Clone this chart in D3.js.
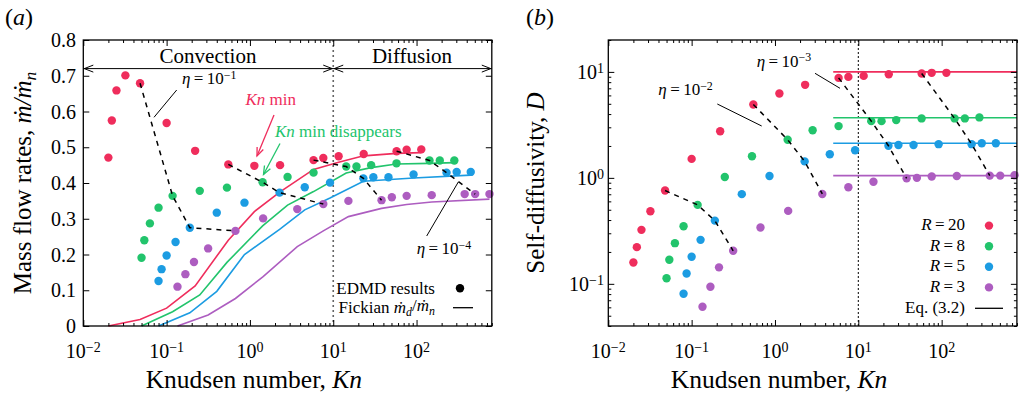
<!DOCTYPE html>
<html>
<head>
<meta charset="utf-8">
<script src="https://cdn.jsdelivr.net/npm/d3@7"></script>
<style>
body { margin: 0; background: #fff; }
svg { font-family: "Liberation Serif", "Times New Roman", serif; }
</style>
</head>
<body>
<div id="chart"></div>
<script>
width = 1021
height = 400

// Kn of the EDMD runs, one list per aspect ratio R (same runs in both panels)
let knR20 = [0.02, 0.022, 0.025, 0.032, 0.048, 0.1, 0.22, 0.55, 1.13, 2.3, 5.8, 7.6, 11.6, 23.2, 57.6, 76, 114]
let knR8 = [0.05, 0.054, 0.063, 0.08, 0.118, 0.25, 0.53, 1.42, 2.83, 5.8, 14.3, 19, 28.5, 57.5, 143, 190, 284]
let knR5 = [0.08, 0.087, 0.1, 0.128, 0.19, 0.4, 0.86, 2.27, 4.55, 9.15, 23, 30.3, 46, 92, 229, 303, 447]
let knR3 = [0.135, 0.168, 0.213, 0.315, 0.67, 1.44, 3.7, 7.6, 15.2, 38, 50.5, 76, 152, 378, 505, 750]

// (a) mass flow rates m/m_n
let flowR20 = [0.471, 0.575, 0.659, 0.701, 0.679, 0.568, 0.490, 0.452, 0.448, 0.450, 0.464, 0.470, 0.475, 0.481, 0.489, 0.493, 0.494]
let flowR8 = [0.191, 0.240, 0.287, 0.331, 0.364, 0.378, 0.387, 0.402, 0.417, 0.429, 0.446, 0.446, 0.450, 0.455, 0.463, 0.463, 0.463]
let flowR5 = [0.126, 0.159, 0.197, 0.235, 0.275, 0.317, 0.345, 0.373, 0.388, 0.401, 0.413, 0.416, 0.416, 0.424, 0.429, 0.431, 0.431]
let flowR3 = [0.110, 0.145, 0.179, 0.217, 0.266, 0.301, 0.327, 0.341, 0.350, 0.352, 0.360, 0.364, 0.366, 0.369, 0.369, 0.369]

// (a) Fickian m_d/m_n, [Kn, value]
let fickR20 = [[0.02, 0], [0.048, 0.018], [0.1, 0.05], [0.22, 0.112], [0.55, 0.24], [1.13, 0.32], [2.3, 0.375], [5.8, 0.438], [11.6, 0.458], [23.2, 0.476], [57.6, 0.483], [114, 0.485]]
let fickR8 = [[0.05, 0], [0.118, 0.04], [0.25, 0.087], [0.53, 0.178], [1.42, 0.28], [2.83, 0.338], [5.8, 0.376], [14.3, 0.428], [28.5, 0.443], [57.5, 0.453], [143, 0.455], [284, 0.457]]
let fickR5 = [[0.08, 0], [0.19, 0.037], [0.4, 0.097], [0.86, 0.2], [2.27, 0.27], [4.55, 0.325], [9.15, 0.358], [23, 0.405], [92, 0.414], [447, 0.422]]
let fickR3 = [[0.135, 0], [0.315, 0.031], [0.67, 0.077], [1.44, 0.138], [3.7, 0.222], [7.6, 0.266], [15.2, 0.306], [38, 0.329], [76, 0.34], [152, 0.347], [750, 0.355]]

// (b) self-diffusivity D
let diffR20 = [0.159, 0.222, 0.323, 0.484, 0.759, 1.51, 2.75, 4.93, 6.25, 7.55, 8.78, 8.97, 9.17, 9.5, 9.66, 9.8, 9.8]
let diffR8 = [0.113, 0.169, 0.242, 0.350, 0.556, 1.02, 1.60, 2.29, 2.81, 3.08, 3.43, 3.43, 3.51, 3.64, 3.64, 3.64, 3.72]
let diffR5 = [0.0807, 0.125, 0.180, 0.260, 0.395, 0.702, 1.04, 1.43, 1.67, 1.82, 2.01, 2.04, 2.04, 2.08, 2.08, 2.12, 2.12]
let diffR3 = [0.0608, 0.094, 0.143, 0.205, 0.340, 0.488, 0.705, 0.815, 0.92, 0.99, 1.0, 1.03, 1.04, 1.05, 1.05, 1.06]

// (b) Eq. (3.2) plateau values, drawn from Kn = 5 on
let eqD = [10, 3.69, 2.12, 1.05]
let eqKnStart = 5

// point index (per R) joined by each eta dashed line
let etaIdxA = [[4, 4, 4, 4], [7, 7, 7, 7], [10, 10, 10, 9], [14, 14, 14, 14]]
let etaIdxB = [[4, 4, 4, 3], [7, 7, 7, 6], [10, 10, 10, 9], [14, 14, 14, 13]]

let rLabels = ["20", "8", "5", "3"]
let colors = ["#ef2d5c", "#22c46c", "#1c9ce2", "#ad5dc0"]

let knAll = [knR20, knR8, knR5, knR3]
let flowAll = [flowR20, flowR8, flowR5, flowR3]
let fickAll = [fickR20, fickR8, fickR5, fickR3]
let diffAll = [diffR20, diffR8, diffR5, diffR3]

let svg = d3.select("#chart")
    .append("svg")
    .attr("width", width)
    .attr("height", height)

// text with italic / sub / sup parts
function rich(sel, parts) {
    parts.forEach(p => {
        let t = sel.append("tspan").text(p.t)
        if (p.i) t.style("font-style", "italic")
        if (p.sup) t.attr("dy", "-0.45em").attr("font-size", "70%")
        if (p.sub) t.attr("dy", "0.3em").attr("font-size", "70%")
        if (p.back) t.attr("dy", p.back)
    })
    return sel
}

function powLabel(e) {
    return [{ t: "10" }, { t: e < 0 ? "\u2212" + (-e) : "" + e, sup: true }]
}

function chevron(g, x, y, dir) {
    g.append("path")
        .attr("d", "M" + (x - dir * 9) + "," + (y - 3.5) + "L" + x + "," + y + "L" + (x - dir * 9) + "," + (y + 3.5))
        .attr("fill", "none")
        .attr("stroke", "#000")
        .attr("stroke-width", 1)
}

function logTicksX(g, x, y0, y1) {
    let all = x.ticks()
    let major = all.filter(v => Math.abs(Math.log10(v) - Math.round(Math.log10(v))) < 1e-6)
    let minor = all.filter(v => major.indexOf(v) < 0)
    g.append("g").attr("transform", "translate(0," + y0 + ")")
        .call(d3.axisBottom(x).tickValues(minor).tickSize(-3).tickFormat(""))
    g.append("g").attr("transform", "translate(0," + y0 + ")")
        .call(d3.axisBottom(x).tickValues(major).tickSize(-6).tickFormat(""))
    g.append("g").attr("transform", "translate(0," + y1 + ")")
        .call(d3.axisTop(x).tickValues(minor).tickSize(-3).tickFormat(""))
    g.append("g").attr("transform", "translate(0," + y1 + ")")
        .call(d3.axisTop(x).tickValues(major).tickSize(-6).tickFormat(""))
    major.forEach(v => {
        rich(g.append("text")
            .attr("x", x(v))
            .attr("y", y0 + 32)
            .attr("text-anchor", "middle")
            .attr("font-size", 20), powLabel(Math.round(Math.log10(v))))
    })
}

function cleanAxes(g) {
    g.selectAll(".domain").remove()
    g.selectAll(".tick line").attr("stroke", "#000").attr("stroke-width", 1)
}

// ---------------- panel (a) ----------------
let xA = d3.scaleLog().domain([0.01, 800]).range([83.3, 491.8])
let yA = d3.scaleLinear().domain([0, 0.8]).range([326, 40])
let ga = svg.append("g")

ga.append("line")
    .attr("x1", xA(10)).attr("x2", xA(10))
    .attr("y1", yA(0.8)).attr("y2", yA(0))
    .attr("stroke", "#666").attr("stroke-width", 1.6)
    .attr("stroke-dasharray", "2,3")

fickAll.forEach((f, i) => {
    ga.append("path")
        .datum(f)
        .attr("d", d3.line().x(d => xA(d[0])).y(d => yA(d[1])))
        .attr("fill", "none")
        .attr("stroke", colors[i])
        .attr("stroke-width", 1.6)
})

flowAll.forEach((s, i) => {
    ga.append("g").selectAll("circle")
        .data(s)
        .join("circle")
        .attr("cx", (d, j) => xA(knAll[i][j]))
        .attr("cy", d => yA(d))
        .attr("r", 4.2)
        .attr("fill", colors[i])
})

etaIdxA.forEach(idx => {
    let pts = idx.map((j, i) => [knAll[i][j], flowAll[i][j]])
    ga.append("path")
        .datum(pts)
        .attr("d", d3.line().x(d => xA(d[0])).y(d => yA(d[1])))
        .attr("fill", "none")
        .attr("stroke", "#000")
        .attr("stroke-width", 1.5)
        .attr("stroke-dasharray", "5,5")
})

let axA = ga.append("g")
logTicksX(axA, xA, 326, 40)
axA.append("g").attr("transform", "translate(" + xA.range()[0] + ",0)")
    .call(d3.axisLeft(yA).ticks(8).tickSize(-6).tickFormat(""))
axA.append("g").attr("transform", "translate(" + xA.range()[1] + ",0)")
    .call(d3.axisRight(yA).ticks(8).tickSize(-6).tickFormat(""))
cleanAxes(axA)
yA.ticks(8).forEach(v => {
    axA.append("text")
        .attr("x", 76)
        .attr("y", yA(v) + 7)
        .attr("text-anchor", "end")
        .attr("font-size", 20)
        .text(v === 0 ? "0" : d3.format(".1f")(v))
})
ga.append("rect")
    .attr("x", 83.3).attr("y", 40)
    .attr("width", 491.8 - 83.3).attr("height", 286)
    .attr("fill", "none").attr("stroke", "#000").attr("stroke-width", 1.3)

// convection / diffusion band
let yBand = yA(0.72)
ga.append("line").attr("x1", xA(0.01)).attr("x2", xA(800)).attr("y1", yBand).attr("y2", yBand)
    .attr("stroke", "#000").attr("stroke-width", 1)
chevron(ga, xA(0.01) + 1, yBand, -1)
chevron(ga, xA(10) - 1, yBand, 1)
chevron(ga, xA(10) + 1, yBand, -1)
chevron(ga, xA(800) - 1, yBand, 1)
ga.append("text").attr("x", 208).attr("y", 63).attr("text-anchor", "middle").attr("font-size", 21).text("Convection")
ga.append("text").attr("x", 412).attr("y", 63).attr("text-anchor", "middle").attr("font-size", 21).text("Diffusion")

// eta labels
rich(ga.append("text").attr("x", 182).attr("y", 84).attr("font-size", 17),
    [{ t: "\u03B7", i: true }, { t: "\u2009=\u200910" }, { t: "\u22121", sup: true }])
ga.append("line").attr("x1", 176.7).attr("y1", 90).attr("x2", 154).attr("y2", 117.3).attr("stroke", "#000")
rich(ga.append("text").attr("x", 416.7).attr("y", 254).attr("font-size", 17),
    [{ t: "\u03B7", i: true }, { t: "\u2009=\u200910" }, { t: "\u22124", sup: true }])
ga.append("line").attr("x1", 426.7).attr("y1", 236).attr("x2", 458.3).attr("y2", 182).attr("stroke", "#000")

// Kn min annotations
rich(ga.append("text").attr("x", 245.5).attr("y", 105).attr("font-size", 17).attr("fill", colors[0]),
    [{ t: "Kn", i: true }, { t: " min" }])
rich(ga.append("text").attr("x", 275).attr("y", 136.5).attr("font-size", 17).attr("fill", colors[1]),
    [{ t: "Kn", i: true }, { t: " min disappears" }])

function arrow(g, x1, y1, x2, y2, c) {
    g.append("line").attr("x1", x1).attr("y1", y1).attr("x2", x2).attr("y2", y2)
        .attr("stroke", c).attr("stroke-width", 1.3)
    let a = Math.atan2(y2 - y1, x2 - x1)
    let p = [-0.38, 0.38].map(o => [x2 - 9 * Math.cos(a + o), y2 - 9 * Math.sin(a + o)])
    g.append("path")
        .attr("d", "M" + p[0] + "L" + x2 + "," + y2 + "L" + p[1])
        .attr("fill", "none").attr("stroke", c).attr("stroke-width", 1.3)
}
arrow(ga, 274, 115, 257, 156, colors[0])
arrow(ga, 280, 143.5, 263.5, 174.5, colors[1])

// legend (a)
ga.append("text").attr("x", 435).attr("y", 293.5).attr("text-anchor", "end").attr("font-size", 17).text("EDMD results")
ga.append("circle").attr("cx", 460).attr("cy", 288.3).attr("r", 4.2).attr("fill", "#000")
rich(ga.append("text").attr("x", 435).attr("y", 312.5).attr("text-anchor", "end").attr("font-size", 17),
    [{ t: "Fickian " }, { t: "\u1E41", i: true }, { t: "d", i: true, sub: true }, { t: "/", back: "-0.3em" }, { t: "\u1E41", i: true }, { t: "n", i: true, sub: true }])
ga.append("line").attr("x1", 453).attr("x2", 473).attr("y1", 307.7).attr("y2", 307.7).attr("stroke", "#000").attr("stroke-width", 1.3)

rich(ga.append("text")
    .attr("transform", "translate(31," + 183 + ") rotate(-90)")
    .attr("text-anchor", "middle")
    .attr("font-size", 25),
    [{ t: "Mass flow rates, " }, { t: "\u1E41/\u1E41", i: true }, { t: "n", i: true, sub: true }])
rich(ga.append("text").attr("x", xA(1) + 4).attr("y", 388).attr("text-anchor", "middle").attr("font-size", 25.5),
    [{ t: "Knudsen number, " }, { t: "Kn", i: true }])
rich(ga.append("text").attr("x", 5).attr("y", 25).attr("font-size", 24),
    [{ t: "(" }, { t: "a", i: true }, { t: ")" }])

// ---------------- panel (b) ----------------
let xB = d3.scaleLog().domain([0.01, 800]).range([608.3, 1016.9])
let yB = d3.scaleLog().domain([0.04, 20]).range([326, 40])
let gb = svg.append("g")

gb.append("line")
    .attr("x1", xB(10)).attr("x2", xB(10))
    .attr("y1", 40).attr("y2", 326)
    .attr("stroke", "#000").attr("stroke-width", 1)
    .attr("stroke-dasharray", "2,2")

eqD.forEach((v, i) => {
    gb.append("line")
        .attr("x1", xB(eqKnStart)).attr("x2", xB(800))
        .attr("y1", yB(v)).attr("y2", yB(v))
        .attr("stroke", colors[i]).attr("stroke-width", 1.6)
})

diffAll.forEach((s, i) => {
    gb.append("g").selectAll("circle")
        .data(s)
        .join("circle")
        .attr("cx", (d, j) => xB(knAll[i][j]))
        .attr("cy", d => yB(d))
        .attr("r", 4.2)
        .attr("fill", colors[i])
})

etaIdxB.forEach(idx => {
    let pts = idx.map((j, i) => [knAll[i][j], diffAll[i][j]])
    gb.append("path")
        .datum(pts)
        .attr("d", d3.line().x(d => xB(d[0])).y(d => yB(d[1])))
        .attr("fill", "none")
        .attr("stroke", "#000")
        .attr("stroke-width", 1.5)
        .attr("stroke-dasharray", "5,5")
})

let axB = gb.append("g")
logTicksX(axB, xB, 326, 40)
let yAll = yB.ticks()
let yMajor = yAll.filter(v => Math.abs(Math.log10(v) - Math.round(Math.log10(v))) < 1e-6)
let yMinor = yAll.filter(v => yMajor.indexOf(v) < 0)
axB.append("g").attr("transform", "translate(" + xB.range()[0] + ",0)")
    .call(d3.axisLeft(yB).tickValues(yMinor).tickSize(-3).tickFormat(""))
axB.append("g").attr("transform", "translate(" + xB.range()[0] + ",0)")
    .call(d3.axisLeft(yB).tickValues(yMajor).tickSize(-6).tickFormat(""))
axB.append("g").attr("transform", "translate(" + xB.range()[1] + ",0)")
    .call(d3.axisRight(yB).tickValues(yMinor).tickSize(-3).tickFormat(""))
axB.append("g").attr("transform", "translate(" + xB.range()[1] + ",0)")
    .call(d3.axisRight(yB).tickValues(yMajor).tickSize(-6).tickFormat(""))
cleanAxes(axB)
yMajor.forEach(v => {
    rich(axB.append("text")
        .attr("x", 604)
        .attr("y", yB(v) + 7)
        .attr("text-anchor", "end")
        .attr("font-size", 20), powLabel(Math.round(Math.log10(v))))
})
gb.append("rect")
    .attr("x", 608.3).attr("y", 40)
    .attr("width", 1016.9 - 608.3).attr("height", 286)
    .attr("fill", "none").attr("stroke", "#000").attr("stroke-width", 1.3)

rich(gb.append("text").attr("x", 658.3).attr("y", 95).attr("font-size", 17),
    [{ t: "\u03B7", i: true }, { t: "\u2009=\u200910" }, { t: "\u22122", sup: true }])
gb.append("line").attr("x1", 717.3).attr("y1", 104).attr("x2", 761.7).attr("y2", 126).attr("stroke", "#000")
rich(gb.append("text").attr("x", 756.7).attr("y", 66.7).attr("font-size", 17),
    [{ t: "\u03B7", i: true }, { t: "\u2009=\u200910" }, { t: "\u22123", sup: true }])
gb.append("line").attr("x1", 815).attr("y1", 73.3).attr("x2", 840).attr("y2", 88.3).attr("stroke", "#000")

// legend (b)
rLabels.forEach((r, i) => {
    let yy = 230 + i * 20.6
    rich(gb.append("text").attr("x", 965).attr("y", yy).attr("text-anchor", "end").attr("font-size", 17),
        [{ t: "R", i: true }, { t: "\u2009=\u2009" + r }])
    gb.append("circle").attr("cx", 989).attr("cy", yy - 4.4).attr("r", 4.2).attr("fill", colors[i])
})
gb.append("text").attr("x", 965).attr("y", 312.5).attr("text-anchor", "end").attr("font-size", 17).text("Eq. (3.2)")
gb.append("line").attr("x1", 975).attr("x2", 1003).attr("y1", 308.3).attr("y2", 308.3).attr("stroke", "#000").attr("stroke-width", 1.3)

rich(gb.append("text")
    .attr("transform", "translate(544," + 183 + ") rotate(-90)")
    .attr("text-anchor", "middle")
    .attr("font-size", 25),
    [{ t: "Self-diffusivity, " }, { t: "D", i: true }])
rich(gb.append("text").attr("x", xB(1) + 4).attr("y", 388).attr("text-anchor", "middle").attr("font-size", 25.5),
    [{ t: "Knudsen number, " }, { t: "Kn", i: true }])
rich(gb.append("text").attr("x", 526).attr("y", 25).attr("font-size", 24),
    [{ t: "(" }, { t: "b", i: true }, { t: ")" }])
</script>
</body>
</html>
